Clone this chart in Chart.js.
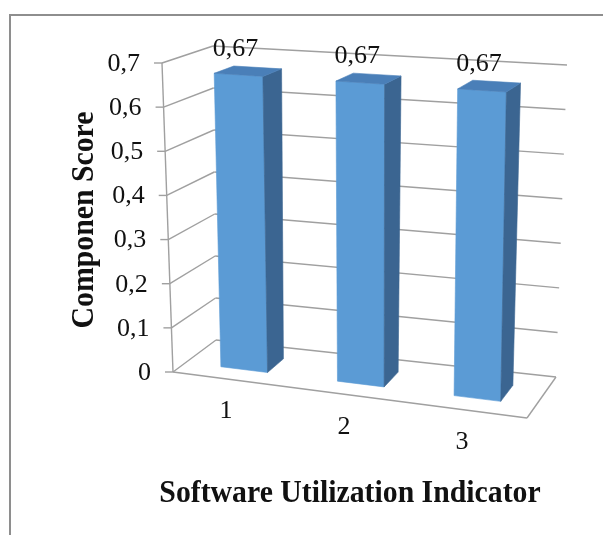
<!DOCTYPE html>
<html>
<head>
<meta charset="utf-8">
<script src="https://cdn.jsdelivr.net/npm/chart.js@4.4.1/dist/chart.umd.min.js"></script>
<style>
  html, body { margin: 0; padding: 0; background: #fff; overflow: hidden; }
  #wrap { position: relative; width: 603px; height: 535px; overflow: hidden; }
  #frame { position: absolute; left: 9px; top: 14px; width: 800px; height: 800px;
           border-top: 2px solid #8e8e8e; border-left: 2px solid #8e8e8e; }
  canvas { position: absolute; left: 0; top: 0; }
</style>
</head>
<body>
<div id="wrap">
  <div id="frame"></div>
  <canvas id="chart" width="603" height="535"></canvas>
</div>
<script>
// ---- data ----
const categories = ['1', '2', '3'];
const componenScore = [0.67, 0.67, 0.67];
const tickValues = [0, 0.1, 0.2, 0.3, 0.4, 0.5, 0.6, 0.7];
const yTitle = 'Componen Score';
const xTitle = 'Software Utilization Indicator';

// ---- 3D view: screen corners of the plot box (front plane / back wall) ----
const box = {
  front: { lb: [173, 372], rb: [527, 418], lt: [162, 63], rt: [533, 87] },
  back:  { lb: [216, 340], rb: [556, 377], lt: [213, 46], rt: [567, 65] }
};
const barDepth = { front: 0.3, back: 0.7 };   // gap depth 150%
const colors = {
  grid: '#a0a0a0',
  front: '#5b9bd5',
  side: '#3b6591',
  top: '#4a7fb8',
  text: '#111111'
};
const fontTick = '26px "Liberation Serif", "Times New Roman", serif';
const fontTitle = 'bold 31px "Liberation Serif", "Times New Roman", serif';
const titleSqueeze = 0.96;

function lerp(a, b, t) { return [a[0] + (b[0] - a[0]) * t, a[1] + (b[1] - a[1]) * t]; }
function onPlane(p, u, v) { return lerp(lerp(p.lb, p.rb, u), lerp(p.lt, p.rt, u), v); }
function project(u, v, w) { return lerp(onPlane(box.front, u, v), onPlane(box.back, u, v), w); }

function poly(ctx, pts, fill) {
  ctx.beginPath();
  ctx.moveTo(pts[0][0], pts[0][1]);
  for (let i = 1; i < pts.length; i++) ctx.lineTo(pts[i][0], pts[i][1]);
  ctx.closePath();
  ctx.fillStyle = fill;
  ctx.fill();
  ctx.strokeStyle = fill;
  ctx.lineWidth = 0.6;
  ctx.stroke();
}
function line(ctx, a, b) {
  ctx.beginPath();
  ctx.moveTo(a[0], a[1]);
  ctx.lineTo(b[0], b[1]);
  ctx.stroke();
}
const fmt = v => String(+v.toFixed(2)).replace('.', ',');

function squeezedText(ctx, text, x, y, angle) {
  ctx.save();
  ctx.translate(x, y);
  ctx.rotate(angle);
  ctx.scale(titleSqueeze, 1);
  ctx.fillText(text, 0, 0);
  ctx.restore();
}

const perspectiveColumns = {
  id: 'perspectiveColumns',
  beforeDatasetsDraw(chart) {
    const ctx = chart.ctx;
    const area = chart.chartArea;
    const yScale = chart.scales.y;
    const toV = py => (area.bottom - py) / (area.bottom - area.top);
    const toU = px => (px - area.left) / (area.right - area.left);

    ctx.save();
    // walls: side + back gridlines, value axis, floor outline
    ctx.strokeStyle = colors.grid;
    ctx.lineWidth = 1.4;
    yScale.ticks.forEach(t => {
      const v = toV(yScale.getPixelForValue(t.value));
      const a = project(0, v, 0), b = project(0, v, 1), c = project(1, v, 1);
      line(ctx, a, b);
      line(ctx, b, c);
      line(ctx, [a[0] - 8, a[1]], a);
    });
    line(ctx, project(0, 0, 0), project(0, 1, 0));
    line(ctx, project(0, 0, 0), project(1, 0, 0));
    line(ctx, project(1, 0, 0), project(1, 0, 1));

    // value axis labels
    ctx.fillStyle = colors.text;
    ctx.font = fontTick;
    ctx.textAlign = 'right';
    ctx.textBaseline = 'middle';
    yScale.ticks.forEach(t => {
      const v = toV(yScale.getPixelForValue(t.value));
      const a = project(0, v, 0);
      ctx.fillText(fmt(t.value), a[0] - 22, a[1] + 1);
    });

    // columns
    const meta = chart.getDatasetMeta(0);
    const ds = chart.data.datasets[0];
    meta.data.forEach((bar, i) => {
      const u0 = toU(bar.x - bar.width / 2), u1 = toU(bar.x + bar.width / 2);
      const v = toV(bar.y), w0 = barDepth.front, w1 = barDepth.back;
      poly(ctx, [project(u0, 0, w0), project(u1, 0, w0), project(u1, v, w0), project(u0, v, w0)], colors.front);
      poly(ctx, [project(u1, 0, w0), project(u1, 0, w1), project(u1, v, w1), project(u1, v, w0)], colors.side);
      poly(ctx, [project(u0, v, w0), project(u1, v, w0), project(u1, v, w1), project(u0, v, w1)], colors.top);

      // value label
      const uc = toU(bar.x);
      const p = project(uc, v, w0);
      ctx.fillStyle = colors.text;
      ctx.font = fontTick;
      ctx.textAlign = 'center';
      ctx.textBaseline = 'middle';
      ctx.fillText(fmt(ds.data[i]), p[0] - 3, p[1] - 26);

      // category label
      const q = project(uc, 0, 0);
      ctx.fillText(chart.data.labels[i], q[0] - 6, q[1] + 32);
    });

    // axis titles
    ctx.font = fontTitle;
    ctx.textAlign = 'center';
    ctx.textBaseline = 'middle';
    squeezedText(ctx, xTitle, 350, 494, 0);
    squeezedText(ctx, yTitle, 85, 220, -Math.PI / 2);

    ctx.restore();
    return false;
  }
};

new Chart(document.getElementById('chart'), {
  type: 'bar',
  data: {
    labels: categories,
    datasets: [{
      label: yTitle,
      data: componenScore,
      backgroundColor: colors.front,
      categoryPercentage: 0.4,
      barPercentage: 1
    }]
  },
  options: {
    responsive: false,
    animation: false,
    events: [],
    layout: { padding: 0 },
    plugins: { legend: { display: false }, tooltip: { enabled: false } },
    scales: {
      x: { display: false },
      y: {
        display: false,
        min: 0,
        max: 0.7,
        afterBuildTicks: scale => { scale.ticks = tickValues.map(value => ({ value })); }
      }
    }
  },
  plugins: [perspectiveColumns]
});
</script>
</body>
</html>
